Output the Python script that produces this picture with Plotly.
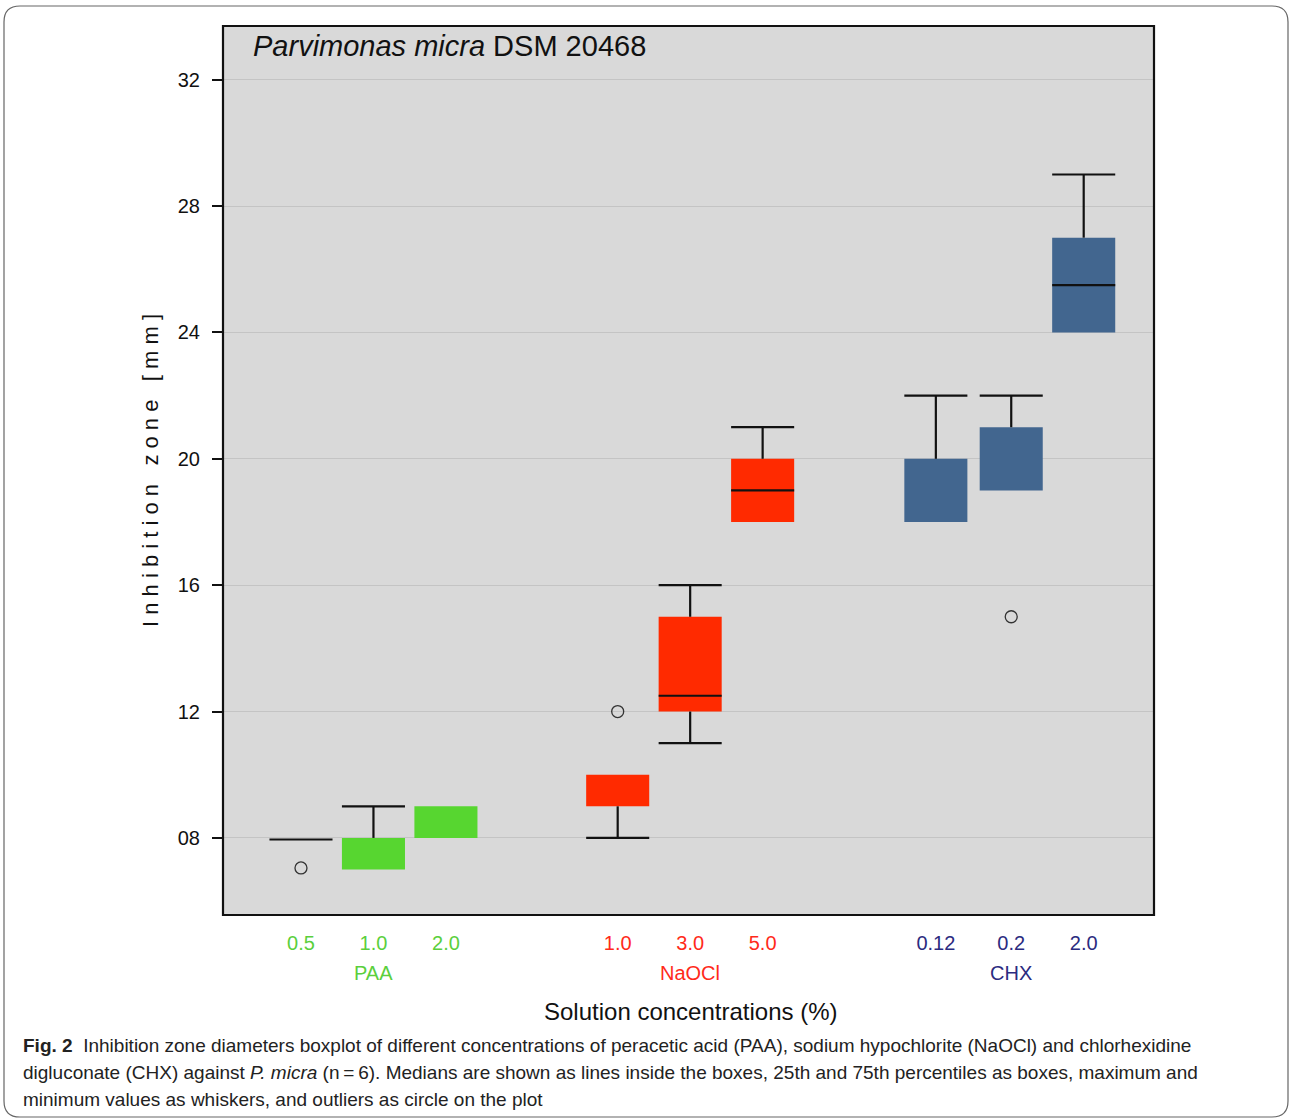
import plotly.graph_objects as go

# ---- data ----
groups = ["PAA", "NaOCl", "CHX"]
concentrations = [["0.5", "1.0", "2.0"], ["1.0", "3.0", "5.0"], ["0.12", "0.2", "2.0"]]
q1 = [[7.95, 7.0, 8.0], [9.0, 12.0, 18.0], [18.0, 19.0, 24.0]]
q3 = [[7.95, 8.0, 9.0], [10.0, 15.0, 20.0], [20.0, 21.0, 27.0]]
medians = [[7.95, None, None], [None, 12.5, 19.0], [None, None, 25.5]]
lower_whisker = [[None, None, None], [8.0, 11.0, None], [None, None, None]]
upper_whisker = [[None, 9.0, None], [None, 16.0, 21.0], [22.0, 22.0, 29.0]]
outliers = [[[7.05], [], []], [[12.0], [], []], [[], [15.0], []]]
y_ticks = [8, 12, 16, 20, 24, 28, 32]
y_tick_labels = ["08", "12", "16", "20", "24", "28", "32"]
caption_lines = [
    "<b>Fig. 2</b>  Inhibition zone diameters boxplot of different concentrations of peracetic acid (PAA), "
    "sodium hypochlorite (NaOCl) and chlorhexidine",
    "digluconate (CHX) against <i>P. micra</i> (n\u2009=\u20096). Medians are shown as lines inside the boxes, "
    "25th and 75th percentiles as boxes, maximum and",
    "minimum values as whiskers, and outliers as circle on the plot",
]

# ---- layout constants ----
positions = [[1, 2, 3], [5.37, 6.37, 7.37], [9.76, 10.8, 11.8]]
box_colors = ["#57d630", "#ff2a00", "#42668f"]
label_colors = ["#5bcf3c", "#ff2a1a", "#2b2b80"]
box_width = 0.87
half = box_width / 2
W, H = 1290, 1119
PL, PR, PT, PB = 223, 1154, 26, 915


def px(xp):
    return (xp - PL) / (PR - PL)


def py(yp):
    return (PB - yp) / (PB - PT)


fig = go.Figure()

for g in range(3):
    xs = positions[g]
    heights = [max(b - a, 0) for a, b in zip(q1[g], q3[g])]
    fig.add_trace(go.Bar(x=xs, y=heights, base=q1[g], width=box_width,
                         marker=dict(color=box_colors[g], line=dict(width=0)),
                         showlegend=False, hoverinfo="skip"))
    lx, ly = [], []
    for i, x in enumerate(xs):
        up = upper_whisker[g][i]
        if up is not None:
            lx += [x, x, None, x - half, x + half, None]
            ly += [q3[g][i], up, None, up, up, None]
        lo = lower_whisker[g][i]
        if lo is not None:
            lx += [x, x, None, x - half, x + half, None]
            ly += [q1[g][i], lo, None, lo, lo, None]
        md = medians[g][i]
        if md is not None:
            lx += [x - half, x + half, None]
            ly += [md, md, None]
    fig.add_trace(go.Scatter(x=lx, y=ly, mode="lines",
                             line=dict(color="#111111", width=2.2),
                             showlegend=False, hoverinfo="skip"))
    ox, oy = [], []
    for i, x in enumerate(xs):
        for v in outliers[g][i]:
            ox.append(x)
            oy.append(v)
    if ox:
        fig.add_trace(go.Scatter(x=ox, y=oy, mode="markers",
                                 marker=dict(symbol="circle-open", size=12,
                                             color="#333333", line=dict(width=1.3)),
                                 showlegend=False, hoverinfo="skip"))

# x tick labels coloured per group
tickvals, ticktext = [], []
for g in range(3):
    for i, x in enumerate(positions[g]):
        tickvals.append(x)
        ticktext.append(f"<span style='color:{label_colors[g]}'>{concentrations[g][i]}</span>")

annotations = []
for g in range(3):
    annotations.append(dict(x=positions[g][1], xref="x", y=py(973), yref="paper",
                            text=groups[g], showarrow=False, yanchor="middle",
                            font=dict(family="Liberation Sans, Arial", size=20,
                                      color=label_colors[g])))
annotations.append(dict(x=px(690), xref="paper", y=py(1011), yref="paper",
                        text="Solution concentrations (%)", showarrow=False,
                        yanchor="middle",
                        font=dict(family="Liberation Sans, Arial", size=24, color="#111111")))
annotations.append(dict(x=px(251), xref="paper", y=py(46), yref="paper",
                        text="<i>Parvimonas micra</i> DSM 20468", showarrow=False,
                        xanchor="left", yanchor="middle",
                        font=dict(family="Liberation Sans, Arial", size=29, color="#111111")))
annotations.append(dict(x=px(150), xref="paper", y=py(471), yref="paper",
                        text="I n h i b i t i o n   z o n e   [ m m ]", showarrow=False,
                        textangle=-90, xanchor="center", yanchor="middle",
                        font=dict(family="Liberation Sans, Arial", size=22, color="#111111")))
for k, (line, yy) in enumerate(zip(caption_lines, [1045, 1072, 1099])):
    annotations.append(dict(x=px(21), xref="paper", y=py(yy), yref="paper",
                            text=line, showarrow=False, xanchor="left", yanchor="middle",
                            align="left",
                            font=dict(family="Liberation Sans, Arial",
                                      size=19, color="#222222")))

# rounded frame around the figure (paper coords)
r = 16
L, T, R, B = 4, 6, 1288, 1117
path = (f"M {px(L)},{py(T + r)} Q {px(L)},{py(T)} {px(L + r)},{py(T)} "
        f"L {px(R - r)},{py(T)} Q {px(R)},{py(T)} {px(R)},{py(T + r)} "
        f"L {px(R)},{py(B - r)} Q {px(R)},{py(B)} {px(R - r)},{py(B)} "
        f"L {px(L + r)},{py(B)} Q {px(L)},{py(B)} {px(L)},{py(B - r)} Z")

fig.update_layout(
    width=W, height=H,
    margin=dict(l=PL, r=W - PR, t=PT, b=H - PB),
    paper_bgcolor="white",
    plot_bgcolor="#d9d9d9",
    barmode="overlay",
    annotations=annotations,
    shapes=[dict(type="path", path=path, xref="paper", yref="paper",
                 line=dict(color="#666666", width=1.2), layer="below"),
            dict(type="rect", xref="paper", yref="paper", x0=0, y0=0, x1=1, y1=1,
                 line=dict(color="#111111", width=2.2), layer="above")],
    xaxis=dict(range=[-0.076, 12.77], tickvals=tickvals, ticktext=ticktext,
               showgrid=False, zeroline=False, ticks="", ticklen=0,
               ticklabelstandoff=14,
               tickfont=dict(family="Liberation Sans, Arial", size=20),
               showline=False),
    yaxis=dict(range=[5.56, 33.7], tickvals=y_ticks, ticktext=y_tick_labels,
               showgrid=True, gridcolor="#c4c4c4", gridwidth=1, zeroline=False,
               ticks="outside", ticklen=10, tickwidth=1.5, tickcolor="#111111",
               ticklabelstandoff=8,
               tickfont=dict(family="Liberation Sans, Arial", size=20, color="#111111"),
               showline=False),
)

fig.write_html("out.html", config={"displayModeBar": False},
               post_script="document.body.style.margin='0';document.body.style.overflow='hidden';")
